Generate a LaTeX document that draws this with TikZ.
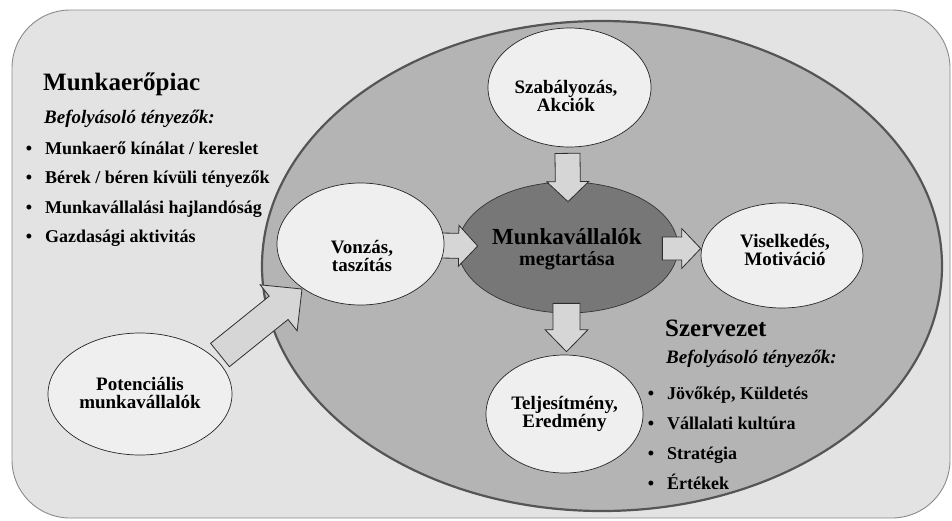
\documentclass[tikz,border=0pt]{standalone}
\usepackage{fontspec}
\setmainfont{Liberation Serif}
\usetikzlibrary{calc,shapes.geometric}
\pgfdeclarelayer{bg}
\pgfdeclarelayer{arrows}
\pgfsetlayers{bg,arrows,main}
\definecolor{boxfill}{HTML}{E3E3E3}
\definecolor{boxline}{HTML}{8A8A8A}
\definecolor{bigfill}{HTML}{B4B4B4}
\definecolor{bigline}{HTML}{555555}
\definecolor{ctrfill}{HTML}{777777}
\definecolor{ellfill}{HTML}{EFEFEF}
\definecolor{arrfill}{HTML}{D6D6D6}
\definecolor{arrline}{HTML}{2E2E2E}
\tikzset{
  outerbox/.style={draw=boxline, line width=0.9pt, fill=boxfill, rounded corners=58pt},
  bigell/.style={ellipse, draw=bigline, line width=2.2pt, fill=bigfill, inner sep=0pt},
  ctrell/.style={ellipse, draw=black!80, line width=0.7pt, fill=ctrfill, inner sep=0pt},
  smallell/.style={ellipse, draw=black!85, line width=0.7pt, fill=ellfill, inner sep=0pt},
  barrow/.style={draw=arrline, line width=0.8pt, fill=arrfill, line join=miter},
  eltext/.style={font=\bfseries\fontsize{19}{18}\selectfont, align=center, inner sep=0pt},
  titletext/.style={font=\bfseries\fontsize{25}{26}\selectfont, anchor=base west, inner sep=0pt},
  subtext/.style={font=\bfseries\itshape\fontsize{19}{20}\selectfont, anchor=base west, inner sep=0pt},
  itemtext/.style={font=\bfseries\fontsize{18}{20}\selectfont, anchor=base west, inner sep=0pt},
  bullettext/.style={font=\bfseries\fontsize{18}{20}\selectfont, anchor=base, inner sep=0pt},
}
% #1 start, #2 tip, #3 shaft half width, #4 head half width, #5 head length, #6 name
\newcommand\blockarr[6]{%
  \coordinate (#6h) at ($(#2)!#5pt!(#1)$);
  \draw[barrow] ($(#1)!#3pt!90:(#2)$) -- ($(#6h)!#3pt!90:(#2)$) -- ($(#6h)!#4pt!90:(#2)$)
    -- (#2) -- ($(#6h)!#4pt!-90:(#2)$) -- ($(#6h)!#3pt!-90:(#2)$) -- ($(#1)!#3pt!-90:(#2)$) -- cycle;
}
\begin{document}
\begin{tikzpicture}[x=1pt,y=-1pt]
\useasboundingbox (0,0) rectangle (952,520);
\begin{pgfonlayer}{bg}
\draw[outerbox] (12,10) rectangle (950,518);
\node[bigell, minimum width=680pt, minimum height=490pt] (big) at (602,266) {};
\node[ctrell, minimum width=220pt, minimum height=131pt] (ctr) at (568,247.5) {};
\end{pgfonlayer}

% small ellipses
\node[smallell, minimum width=163pt, minimum height=119pt] (szab) at (569.5,87.5) {};
\node[smallell, minimum width=167pt, minimum height=122pt] (vonz) at (360.5,244) {};
\node[smallell, minimum width=162pt, minimum height=105pt] (visel) at (782,255.5) {};
\node[smallell, minimum width=157pt, minimum height=118pt] (telj) at (564.5,414) {};
\node[smallell, minimum width=184pt, minimum height=122pt] (pot) at (140,394) {};

% block arrows
\begin{pgfonlayer}{arrows}
\coordinate (a1s) at ($(szab.south)+(-2,6)$);
\coordinate (a1t) at ($(ctr.north)+(0,20)$);
\blockarr{a1s}{a1t}{12.5}{21}{20}{a1}
\coordinate (a2s) at ($(vonz.east)+(-6,1.5)$);
\coordinate (a2t) at ($(ctr.west)+(20,-1.5)$);
\blockarr{a2s}{a2t}{12.5}{20.5}{19}{a2}
\coordinate (a3s) at ($(ctr.east)+(-16,1)$);
\coordinate (a3t) at ($(visel.west)+(0,-7)$);
\blockarr{a3s}{a3t}{11.5}{20}{19}{a3}
\coordinate (a4s) at ($(ctr.south)+(-1.5,-10)$);
\coordinate (a4t) at ($(telj.north)+(2,-3)$);
\blockarr{a4s}{a4t}{13.5}{21.5}{22}{a4}
\coordinate (a5s) at ($(pot.center)+(80,-39)$);
\coordinate (a5t) at ($(vonz.center)+(-58.5,45)$);
\blockarr{a5s}{a5t}{15}{29.5}{30}{a5}
\end{pgfonlayer}

% ellipse texts
\node[eltext] (szabt) at (566,96) {Szabályozás,\\Akciók};
\node[eltext] (vonzt) at (362,255.5) {Vonzás,\\taszítás};
\node[eltext] (viselt) at (785,250) {Viselkedés,\\Motiváció};
\node[eltext] (teljt) at (564.5,414) {Teljesítmény,\\Eredmény};
\node[eltext] (pott) at (140,393) {Potenciális\\munkavállalók};
\node[font=\bfseries\fontsize{23}{24}\selectfont, anchor=base, inner sep=0pt] (ctrt1) at (567,244) {Munkavállalók};
\node[font=\bfseries\fontsize{20}{22}\selectfont, anchor=base, inner sep=0pt] (ctrt2) at (567,265) {megtartása};

% left column
\node[titletext] (mtitle) at (43,90) {Munkaerőpiac};
\node[subtext] (msub) at (44,123) {Befolyásoló tényezők:};
\node[bullettext] (mb1) at (29,154) {•};
\node[itemtext] (mi1) at (45,154) {Munkaerő kínálat / kereslet};
\node[bullettext] (mb2) at (29,183) {•};
\node[itemtext] (mi2) at (45,183) {Bérek / béren kívüli tényezők};
\node[bullettext] (mb3) at (29,213) {•};
\node[itemtext] (mi3) at (45,213) {Munkavállalási hajlandóság};
\node[bullettext] (mb4) at (29,242) {•};
\node[itemtext] (mi4) at (45,242) {Gazdasági aktivitás};

% right column
\node[titletext] (stitle) at (665,336) {Szervezet};
\node[subtext] (ssub) at (666,363) {Befolyásoló tényezők:};
\node[bullettext] (sb1) at (651,399) {•};
\node[itemtext] (si1) at (667,399) {Jövőkép, Küldetés};
\node[bullettext] (sb2) at (651,429) {•};
\node[itemtext] (si2) at (667,429) {Vállalati kultúra};
\node[bullettext] (sb3) at (651,459) {•};
\node[itemtext] (si3) at (667,459) {Stratégia};
\node[bullettext] (sb4) at (651,489) {•};
\node[itemtext] (si4) at (667,489) {Értékek};
\end{tikzpicture}
\end{document}
